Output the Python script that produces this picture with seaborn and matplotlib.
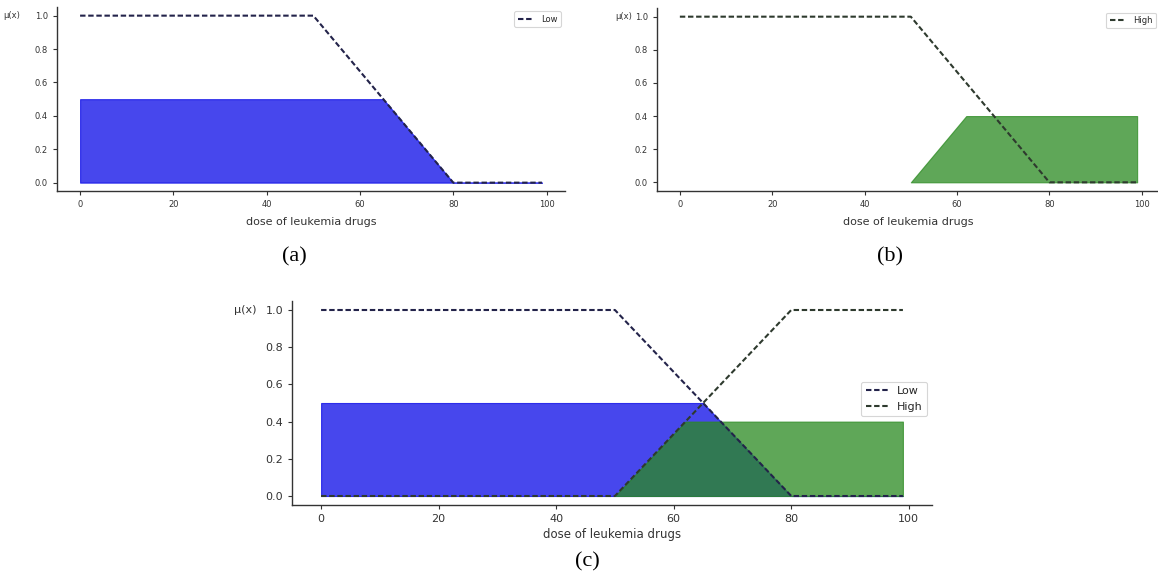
import numpy as np
import pandas as pd
import matplotlib
matplotlib.use("Agg")
import matplotlib.pyplot as plt
import seaborn as sns

# ---- data (breakpoints) ----
low_x = [0, 50, 80, 99]
low_y = [1.0, 1.0, 0.0, 0.0]
high_x = [0, 50, 80, 99]
high_y = [0.0, 0.0, 1.0, 1.0]
low_act_x = [0, 65, 80, 99]
low_act_y = [0.5, 0.5, 0.0, 0.0]
high_act_x = [50, 62, 99]
high_act_y = [0.0, 0.4, 0.4]
xticks = [0, 20, 40, 60, 80, 100]
yticks = [0.0, 0.2, 0.4, 0.6, 0.8, 1.0]
xlabel = "dose of leukemia drugs"
ylabel = "μ(x)"
captions = ["(a)", "(b)", "(c)"]

sns.set_style("ticks")
plt.rcParams['font.family'] = ['DejaVu Sans']

W, H = 1158, 576
fig = plt.figure(figsize=(W / 100, H / 100), dpi=100)
fig.patch.set_facecolor("white")


def px_axes(l, t, r, b):
    return fig.add_axes([l / W, 1 - b / H, (r - l) / W, (b - t) / H])


LOW_C = "#23234a"
HIGH_C = "#2e3a2e"
BLUE = "#0000e6"
GREEN = "#2a8a20"


def style(ax, tick_fs, label_fs, ylab_x):
    ax.set_xlim(-4.95, 103.95)
    ax.set_ylim(-0.05, 1.05)
    ax.set_xticks(xticks)
    ax.set_yticks(yticks)
    ax.set_yticklabels([f"{v:.1f}" for v in yticks])
    ax.tick_params(labelsize=tick_fs, colors="#333333", length=3, width=0.8)
    for s in ["left", "bottom"]:
        ax.spines[s].set_color("#333333")
        ax.spines[s].set_linewidth(1.0)
    sns.despine(ax=ax)
    ax.set_xlabel(xlabel, fontsize=label_fs, color="#333333", labelpad=6)
    ax.set_ylabel(ylabel, fontsize=tick_fs, rotation=0, ha="right", va="center",
                  color="#333333")
    ax.yaxis.set_label_coords(ylab_x, 1.05 / 1.1)


def dashed(ax, xs, ys, color, label):
    df = pd.DataFrame({"x": xs, "y": ys})
    sns.lineplot(data=df, x="x", y="y", ax=ax, color=color, linestyle="--",
                 linewidth=1.5, label=label, estimator=None, sort=False)
    ax.lines[-1].set_dashes((2.6, 1.3))


# ---- panel (a) ----
ax_a = px_axes(57, 7.3, 565, 191)
ax_a.fill_between(low_act_x, 0, low_act_y, color=BLUE, alpha=0.72, linewidth=0.8)
dashed(ax_a, low_x, low_y, LOW_C, "Low")
style(ax_a, 6, 8, -0.072)
ax_a.legend(loc="upper right", fontsize=6, frameon=True, handlelength=2)

# ---- panel (b) ----
ax_b = px_axes(657, 8.4, 1160, 190.6)
ax_b.fill_between(high_act_x, 0, high_act_y, color=GREEN, alpha=0.75, linewidth=0.8)
dashed(ax_b, low_x, low_y, HIGH_C, "High")
style(ax_b, 6, 8, -0.05)
ax_b.legend(loc="upper right", fontsize=6, frameon=True, handlelength=2)

# ---- panel (c) ----
ax_c = px_axes(292, 300.7, 932, 505.3)
ax_c.fill_between(low_act_x, 0, low_act_y, color=BLUE, alpha=0.72, linewidth=0.8)
ax_c.fill_between(high_act_x, 0, high_act_y, color=GREEN, alpha=0.75, linewidth=0.8)
dashed(ax_c, low_x, low_y, LOW_C, "Low")
dashed(ax_c, high_x, high_y, HIGH_C, "High")
style(ax_c, 8, 8.5, -0.055)
ax_c.set_xlabel(xlabel, fontsize=8.5, color="#333333", labelpad=3)
ax_c.legend(loc="upper right", bbox_to_anchor=(0.992, 0.605), borderaxespad=0,
            fontsize=8, frameon=True, handlelength=2)

for ax in (ax_a, ax_b, ax_c):
    leg = ax.get_legend()
    leg.get_frame().set_edgecolor("#cccccc")
    leg.get_frame().set_linewidth(0.8)
    for h in leg.get_lines():
        h.set_dashes((2.6, 1.3))

# ---- captions ----
cap_font = dict(family=["Liberation Serif", "DejaVu Serif"], fontsize=16,
                ha="center", va="center", color="black")
fig.text(294 / W, 1 - 257 / H, captions[0], **cap_font)
fig.text(890 / W, 1 - 257 / H, captions[1], **cap_font)
fig.text(587 / W, 1 - 562 / H, captions[2], **cap_font)

fig.savefig("out.png", dpi=100, facecolor="white")
